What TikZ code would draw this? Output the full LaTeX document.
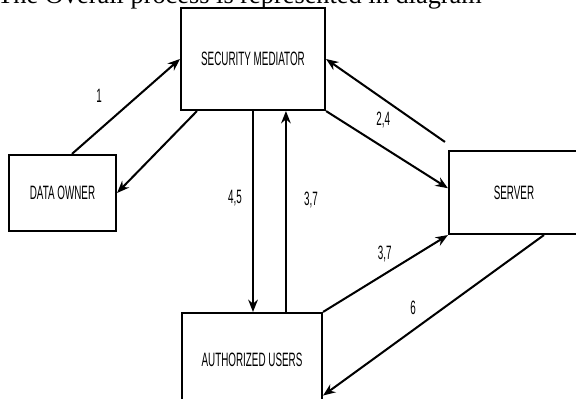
\documentclass[tikz,border=0pt]{standalone}
\usepackage{fontspec}
\setmainfont{Liberation Serif}
\newfontfamily\dfdfont[FakeStretch=0.51]{Liberation Sans}
\usetikzlibrary{calc,positioning,arrows.meta}

\tikzset{
  entity/.style={draw, line width=1.2pt, font=\dfdfont\fontsize{11}{13}\selectfont, inner sep=0pt},
  flow/.style={line width=1.15pt, -{Stealth[length=7pt,width=5.5pt]}},
  num/.style={font=\dfdfont\fontsize{11}{13}\selectfont, inner sep=0pt}
}

\begin{document}
\begin{tikzpicture}
\useasboundingbox (0,0) rectangle (11.52,7.96);

% kotak-kotak
\node[entity, minimum width=2.88cm, minimum height=2.04cm] (sm) at (5.06,6.78) {SECURITY MEDIATOR};
\node[entity, minimum width=2.14cm, minimum height=1.52cm] (do) at (1.25,4.10) {DATA OWNER};
\node[entity, minimum width=2.60cm, minimum height=1.66cm] (sv) at (10.28,4.11) {SERVER};
\node[entity, minimum width=2.80cm, minimum height=1.88cm] (au) at (5.04,0.76) {AUTHORIZED USERS};

% judul, terpotong di atas
\node[anchor=base west, font=\fontsize{15}{18}\selectfont, inner sep=0pt] (judul) at (-0.06,7.88) {The Overall process is represented in diagram};

% titik bantu
\coordinate (au-up) at ($(au.north west)+(2.10,0)$);
\coordinate (sv-out) at ($(sv.north west)+(-0.06,0.16)$);

% aliran
\draw[flow] ($(do.north west)+(1.28,0)$) -- node[num, pos=0.41, xshift=-0.34cm, yshift=0.38cm] {1} (sm.west);
\draw[flow] ($(sm.south west)+(0.34,0)$) -- (do.east);
\draw[flow] (sm.south) -- node[num, pos=0.433, xshift=-0.36cm] {4,5} (sm.south |- au.north);
\draw[flow] (au-up) -- node[num, pos=0.557, xshift=0.5cm] {3,7} (au-up |- sm.south);
\draw[flow] (sm.south east) -- ($(sv.north west)!0.45!(sv.south west)$);
\draw[flow] (sv-out) -- node[num, pos=0.43, xshift=-0.21cm, yshift=-0.28cm] {2,4} (sm.east);
\draw[flow] (au.north east) -- node[num, pos=0.566, xshift=-0.18cm, yshift=0.29cm] {3,7} (sv.south west);
\draw[flow] ($(sv.south west)+(1.92,0)$) -- node[num, pos=0.545, xshift=-0.21cm, yshift=0.29cm] {6} ($(au.north east)!0.87!(au.south east)$);

\end{tikzpicture}
\end{document}
